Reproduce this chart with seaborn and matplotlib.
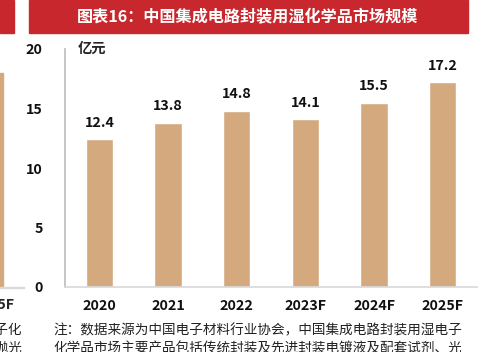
import matplotlib
matplotlib.use("Agg")
import matplotlib.pyplot as plt
import seaborn as sns
import pandas as pd
from matplotlib.patches import Rectangle

# 数据
years = ["2020", "2021", "2022", "2023F", "2024F", "2025F"]
market_size = [12.4, 13.8, 14.8, 14.1, 15.5, 17.2]
y_ticks = [0, 5, 10, 15, 20]

title_text = "图表16：中国集成电路封装用湿化学品市场规模"
unit_text = "亿元"
note_lines = [
    "注：数据来源为中国电子材料行业协会，中国集成电路封装用湿电子",
    "化学品市场主要产品包括传统封装及先进封装电镀液及配套试剂、光",
]

sns.set_theme(style="white")
plt.rcParams["font.family"] = ["Noto Sans CJK SC", "DejaVu Sans"]

W, H = 485, 352
fig = plt.figure(figsize=(W / 100, H / 100), dpi=100)
fig.patch.set_facecolor("white")

bar_color = "#D4A97E"
red = "#C8282D"

# 标题栏
fig.patches.append(Rectangle((29 / W, 1 - 33 / H), (468 - 29) / W, 33 / H,
                             transform=fig.transFigure, color=red, zorder=0))
fig.patches.append(Rectangle((0, 1 - 33 / H), 14 / W, 33 / H,
                             transform=fig.transFigure, color=red, zorder=0))
fig.text(248 / W, 1 - 17 / H, title_text, color="white", fontsize=11.6,
         fontweight="bold", ha="center", va="center")

# 左侧残留的相邻图表
fig.patches.append(Rectangle((0, (H - 287) / H), 3 / W, (287 - 73) / H,
                             transform=fig.transFigure, color=bar_color, zorder=0))
fig.patches.append(Rectangle((0, (H - 287.5) / H), 24 / W, 1 / H,
                             transform=fig.transFigure, color="#D9D9D9", zorder=0))
fig.text(14 / W, 1 - 305 / H, "2025F", fontsize=10.3, fontweight="bold", ha="right", va="center")
fig.text(22 / W, 1 - 330 / H, "湿电子化", fontsize=9.8, ha="right", va="center", color="#222222")
fig.text(22 / W, 1 - 348 / H, "、抛光", fontsize=9.8, ha="right", va="center", color="#222222")

# 主图
ax = fig.add_axes([65 / W, (H - 287) / H, (477 - 65) / W, (287 - 49) / H])
df = pd.DataFrame({"year": years, "value": market_size})
sns.barplot(data=df, x="year", y="value", color=bar_color, width=0.4,
            saturation=1, ax=ax, zorder=2)
ax.set_xlim(-0.5, len(years) - 0.5)
ax.set_ylim(0, 20)
ax.set_yticks(y_ticks)
ax.set_xlabel("")
ax.set_ylabel("")

for i, v in enumerate(market_size):
    ax.text(i, v + 0.8, f"{v:.1f}", ha="center", va="bottom",
            fontsize=10.3, fontweight="bold", color="#111111")

for side in ["top", "right"]:
    ax.spines[side].set_visible(False)
ax.spines["left"].set_color("#BFBFBF")
ax.spines["bottom"].set_color("#D9D9D9")
ax.tick_params(axis="y", length=4, color="#BFBFBF", pad=12, labelsize=10.3)
ax.tick_params(axis="x", length=0, pad=9, labelsize=10.3)
for lab in ax.get_xticklabels() + ax.get_yticklabels():
    lab.set_fontweight("bold")
    lab.set_color("#111111")

ax.text(0.03, 1.0, unit_text, transform=ax.transAxes, fontsize=10.3,
        fontweight="bold", ha="left", va="center")

# 注释
fig.text(53 / W, 1 - 330 / H, note_lines[0], fontsize=9.8, ha="left", va="center", color="#222222")
fig.text(53 / W, 1 - 348 / H, note_lines[1], fontsize=9.8, ha="left", va="center", color="#222222")

fig.savefig("out.png", dpi=100, facecolor="white")
